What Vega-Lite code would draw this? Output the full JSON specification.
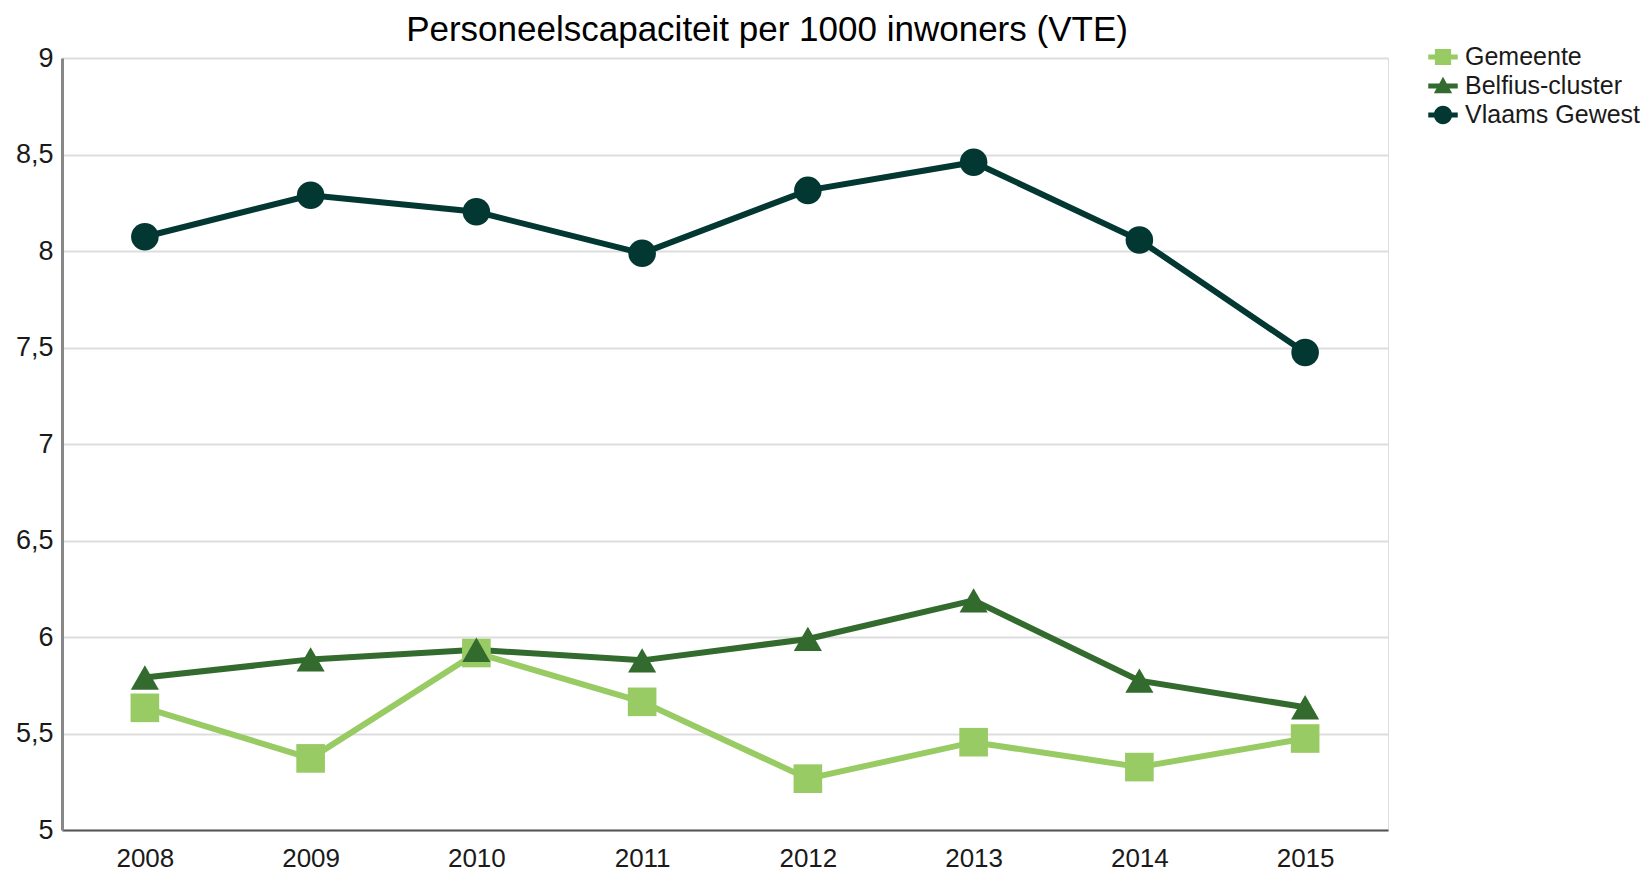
{
  "$schema": "https://vega.github.io/schema/vega-lite/v6.json",
  "autosize": "none",
  "width": 1326,
  "height": 772,
  "padding": {"left": 62, "top": 58, "right": 262, "bottom": 41},
  "background": "white",
  "title": {
    "text": "Personeelscapaciteit per 1000 inwoners (VTE)",
    "font": "Liberation Sans",
    "fontSize": 35,
    "fontWeight": "normal",
    "color": "#000000",
    "anchor": "middle",
    "frame": "group",
    "dx": 42,
    "offset": -6
  },
  "data": {
    "values": [
      {"jaar": "2008", "reeks": "Gemeente", "waarde": 5.633},
      {"jaar": "2009", "reeks": "Gemeente", "waarde": 5.371},
      {"jaar": "2010", "reeks": "Gemeente", "waarde": 5.917},
      {"jaar": "2011", "reeks": "Gemeente", "waarde": 5.664},
      {"jaar": "2012", "reeks": "Gemeente", "waarde": 5.266},
      {"jaar": "2013", "reeks": "Gemeente", "waarde": 5.455},
      {"jaar": "2014", "reeks": "Gemeente", "waarde": 5.326},
      {"jaar": "2015", "reeks": "Gemeente", "waarde": 5.474},
      {"jaar": "2008", "reeks": "Belfius-cluster", "waarde": 5.79},
      {"jaar": "2009", "reeks": "Belfius-cluster", "waarde": 5.884},
      {"jaar": "2010", "reeks": "Belfius-cluster", "waarde": 5.934},
      {"jaar": "2011", "reeks": "Belfius-cluster", "waarde": 5.879},
      {"jaar": "2012", "reeks": "Belfius-cluster", "waarde": 5.99},
      {"jaar": "2013", "reeks": "Belfius-cluster", "waarde": 6.19},
      {"jaar": "2014", "reeks": "Belfius-cluster", "waarde": 5.774},
      {"jaar": "2015", "reeks": "Belfius-cluster", "waarde": 5.636},
      {"jaar": "2008", "reeks": "Vlaams Gewest", "waarde": 8.074},
      {"jaar": "2009", "reeks": "Vlaams Gewest", "waarde": 8.289},
      {"jaar": "2010", "reeks": "Vlaams Gewest", "waarde": 8.203},
      {"jaar": "2011", "reeks": "Vlaams Gewest", "waarde": 7.988},
      {"jaar": "2012", "reeks": "Vlaams Gewest", "waarde": 8.314},
      {"jaar": "2013", "reeks": "Vlaams Gewest", "waarde": 8.46},
      {"jaar": "2014", "reeks": "Vlaams Gewest", "waarde": 8.057},
      {"jaar": "2015", "reeks": "Vlaams Gewest", "waarde": 7.474}
    ]
  },
  "encoding": {
    "x": {
      "field": "jaar",
      "type": "ordinal",
      "scale": {"type": "point", "padding": 0.5},
      "axis": {
        "title": null,
        "labelAngle": 0,
        "labelFont": "Liberation Sans",
        "labelFontSize": 26,
        "labelColor": "#1a1a1a",
        "labelPadding": 15,
        "ticks": false,
        "domainColor": "#555555",
        "domainWidth": 2,
        "grid": false
      }
    },
    "y": {
      "field": "waarde",
      "type": "quantitative",
      "scale": {"domain": [5, 9], "nice": false, "zero": false},
      "axis": {
        "title": null,
        "values": [5, 5.5, 6, 6.5, 7, 7.5, 8, 8.5, 9],
        "labelExpr": "replace(format(datum.value, ''), '.', ',')",
        "labelFont": "Liberation Sans",
        "labelFontSize": 27,
        "labelColor": "#1a1a1a",
        "labelPadding": 9,
        "ticks": false,
        "domainColor": "#888888",
        "domainWidth": 3,
        "gridColor": "#dddddd",
        "gridWidth": 2
      }
    }
  },
  "layer": [
    {
      "mark": {"type": "line", "strokeWidth": 6},
      "encoding": {
        "color": {
          "field": "reeks",
          "type": "nominal",
          "scale": {
            "domain": ["Gemeente", "Belfius-cluster", "Vlaams Gewest"],
            "range": ["#98cb63", "#336a2e", "#033731"]
          },
          "legend": null
        }
      }
    },
    {
      "mark": {"type": "point", "filled": true, "opacity": 1},
      "encoding": {
        "color": {
          "field": "reeks",
          "type": "nominal",
          "scale": {
            "domain": ["Gemeente", "Belfius-cluster", "Vlaams Gewest"],
            "range": ["#98cb63", "#336a2e", "#033731"]
          },
          "legend": null
        },
        "shape": {
          "field": "reeks",
          "type": "nominal",
          "scale": {
            "domain": ["Gemeente", "Belfius-cluster", "Vlaams Gewest"],
            "range": ["square", "triangle-up", "circle"]
          },
          "legend": null
        },
        "size": {
          "field": "reeks",
          "type": "nominal",
          "scale": {
            "domain": ["Gemeente", "Belfius-cluster", "Vlaams Gewest"],
            "range": [820, 760, 1000]
          },
          "legend": null
        }
      }
    },
    {
      "mark": {"type": "point", "filled": true, "opacity": 0},
      "encoding": {
        "color": {
          "field": "reeks",
          "type": "nominal",
          "scale": {
            "domain": ["Gemeente", "Belfius-cluster", "Vlaams Gewest"],
            "range": ["#98cb63", "#336a2e", "#033731"]
          },
          "legend": {
            "title": null,
            "orient": "none",
            "legendX": 1366,
            "legendY": -16,
            "labelFont": "Liberation Sans",
            "labelFontSize": 25,
            "labelColor": "#1a1a1a",
            "labelLimit": 0,
            "symbolSize": 870,
            "symbolStrokeWidth": 0,
            "symbolOpacity": 1,
            "rowPadding": 1,
            "labelOffset": 7
          }
        },
        "shape": {
          "field": "reeks",
          "type": "nominal",
          "scale": {
            "domain": ["Gemeente", "Belfius-cluster", "Vlaams Gewest"],
            "range": [
              "M-1,-0.17H1V0.17H-1ZM-0.55,-0.55H0.55V0.55H-0.55Z",
              "M-1,-0.17H1V0.17H-1ZM0,-0.62L0.62,0.5L-0.62,0.5Z",
              "M-1,-0.17H1V0.17H-1ZM-0.62,0A0.62,0.62,0,1,1,0.62,0A0.62,0.62,0,1,1,-0.62,0Z"
            ]
          },
          "legend": {
            "title": null,
            "orient": "none",
            "legendX": 1366,
            "legendY": -16,
            "labelFont": "Liberation Sans",
            "labelFontSize": 25,
            "labelColor": "#1a1a1a",
            "labelLimit": 0,
            "symbolSize": 870,
            "symbolStrokeWidth": 0,
            "symbolOpacity": 1,
            "rowPadding": 1,
            "labelOffset": 7
          }
        }
      }
    }
  ],
  "resolve": {"scale": {"color": "independent", "shape": "independent", "size": "independent"}}
}
